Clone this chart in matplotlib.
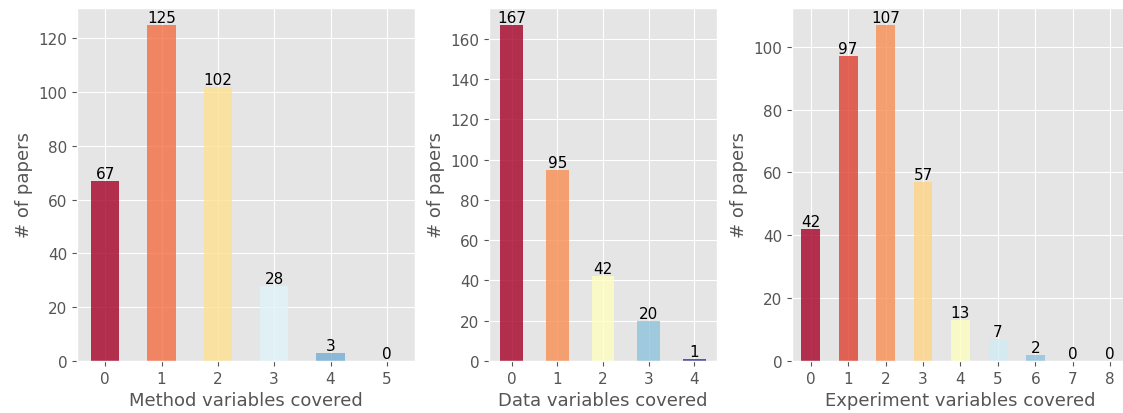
import matplotlib
matplotlib.use("Agg")
import matplotlib.pyplot as plt
import numpy as np

method_counts = [67, 125, 102, 28, 3, 0]
data_counts = [167, 95, 42, 20, 1]
experiment_counts = [42, 97, 107, 57, 13, 7, 2, 0, 0]

xlabels = ["Method variables covered", "Data variables covered", "Experiment variables covered"]

plt.style.use("ggplot")
plt.rcParams["xtick.labelsize"] = 11
plt.rcParams["ytick.labelsize"] = 11
plt.rcParams["axes.labelsize"] = 13
fig = plt.figure(figsize=(11.23, 4.14), dpi=100)

# axes boxes in pixels (left, right) from the reference
boxes = [(77, 415), (489, 717), (792, 1129)]
bottom, top = 362, 9
W, H = 1123, 414

for (l, r), counts, xl in zip(boxes, [method_counts, data_counts, experiment_counts], xlabels):
    ax = fig.add_axes([l / W, (H - bottom) / H, (r - l) / W, (bottom - top) / H])
    n = len(counts)
    x = np.arange(n)
    colors = plt.cm.RdYlBu(np.linspace(0, 1, n))
    ax.bar(x, counts, width=0.5, color=colors, alpha=0.8)
    ax.set_xlim(-0.5, n - 0.5)
    ax.set_ylim(0, max(counts) * 1.05)
    ax.set_xticks(x)
    ax.set_xticklabels([str(i) for i in x])
    for xi, v in zip(x, counts):
        ax.text(xi, v, str(v), ha="center", va="bottom", fontsize=11, color="black")
    ax.set_xlabel(xl)
    ax.set_ylabel("# of papers")

plt.savefig("out.png", dpi=100)
